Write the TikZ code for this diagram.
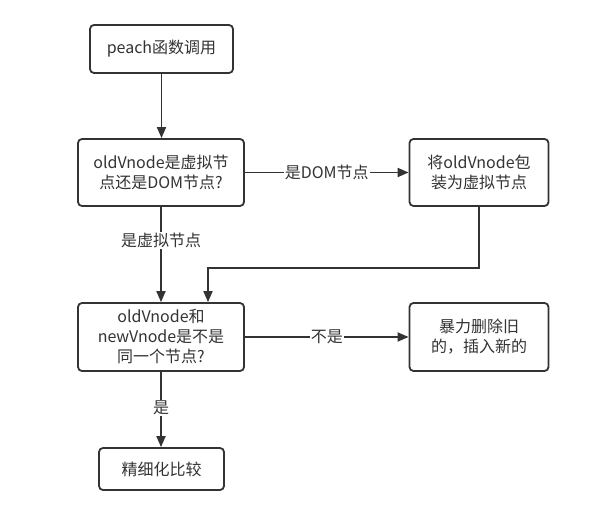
\documentclass[tikz,border=0pt]{standalone}
\usepackage{fontspec}
\setmainfont{Noto Sans CJK SC}
\usetikzlibrary{arrows.meta}
\definecolor{ln}{HTML}{333333}
\begin{document}
\begin{tikzpicture}[x=1pt,y=-1pt,
  box/.style={draw=ln,line width=1.8pt,rounded corners=4pt,fill=white,inner sep=0pt,
    align=center,font=\fontsize{16}{20}\selectfont,text=ln},
  arr/.style={draw=ln,line width=1.8pt,-{Triangle[length=11pt,width=9pt]}},
  lab/.style={fill=white,inner sep=1pt,font=\fontsize{16}{20}\selectfont,text=ln}]
\useasboundingbox (0,0) rectangle (611,516);
\node[box,minimum width=143pt,minimum height=48pt] (b1) at (161.5,49) {peach函数调用};
\node[box,minimum width=166pt,minimum height=67pt] (b2) at (161,172.5) {oldVnode是虚拟节\\点还是DOM节点?};
\node[box,minimum width=139pt,minimum height=67pt] (b3) at (479,172.5) {将oldVnode包\\装为虚拟节点};
\node[box,minimum width=166pt,minimum height=68pt] (b4) at (161,337) {oldVnode和\\newVnode是不是\\同一个节点?};
\node[box,minimum width=139pt,minimum height=68pt] (b5) at (479,337) {暴力删除旧\\的，插入新的};
\node[box,minimum width=125pt,minimum height=42pt] (b6) at (161.5,469) {精细化比较};
\coordinate (c1) at (479,268);
\coordinate (c2) at (208,268);
\draw[arr] (b1) -- (b1|-b2.north);
\draw[arr] (b2) -- node[lab]{是DOM节点} (b3);
\draw[arr] (b2.south) -- node[lab,pos=0.35]{是虚拟节点} (b2.south|-b4.north);
\draw[arr] (b3.south) -- (c1) -- (c2) -- (c2|-b4.north);
\draw[arr] (b4) -- node[lab]{不是} (b5);
\draw[arr] (b4.south) -- node[lab,pos=0.48]{是} (b4.south|-b6.north);
\end{tikzpicture}
\end{document}
